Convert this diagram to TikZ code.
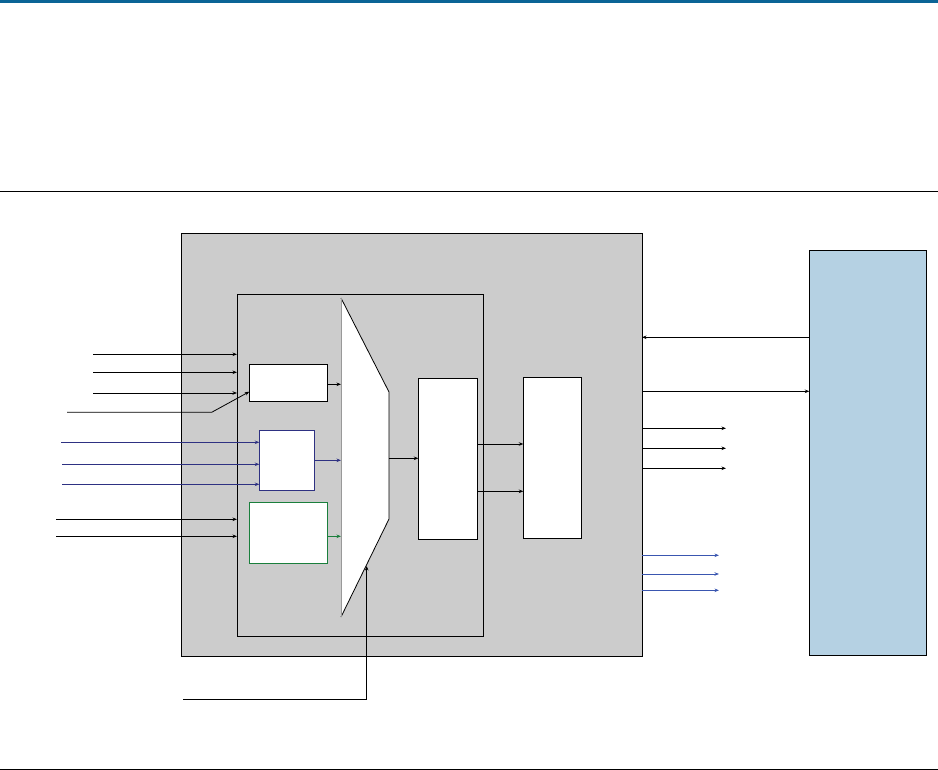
\documentclass[tikz,border=0pt]{standalone}
\usepackage{tikz}
\usetikzlibrary{arrows.meta}

\definecolor{rulecol}{HTML}{0B6496}
\definecolor{shellgray}{HTML}{CCCCCC}
\definecolor{hostblue}{HTML}{B5D1E3}
\definecolor{navyline}{HTML}{2E3182}
\definecolor{greenline}{HTML}{1A7F3C}
\definecolor{outblue}{HTML}{3A56B0}

\begin{document}
\begin{tikzpicture}[
  x=1pt, y=-1pt,
  shell/.style={draw, rectangle, line width=0.8pt, fill=shellgray, inner sep=0pt, outer sep=0pt},
  frame/.style={draw, rectangle, line width=0.8pt, inner sep=0pt, outer sep=0pt},
  blk/.style={draw, rectangle, line width=0.8pt, fill=white, inner sep=0pt, outer sep=0pt},
  host/.style={draw, rectangle, line width=0.8pt, fill=hostblue, inner sep=0pt, outer sep=0pt},
  arrow/.style={-{Stealth[length=4.5pt,width=3.5pt]}, line width=0.8pt},
  wire/.style={line width=0.8pt}
]
\useasboundingbox (0,0) rectangle (938,770);

% ==================== page rules ====================
\fill[rulecol] (0,0) rectangle (938,3);
\draw[line width=1pt] (0,192) -- (938,192);
\draw[line width=1pt] (0,769) -- (938,769);

% ==================== blocks ====================
\node[shell, minimum width=461, minimum height=423] (core) at (411.5, 444.5) {};
\node[frame, minimum width=246, minimum height=342] (inner) at (360, 465) {};

\node[blk, minimum width=78.4, minimum height=37] (blkA) at (288.5, 382.8) {};
\node[blk, draw=navyline, minimum width=55, minimum height=60] (blkB) at (286.8, 460.3) {};
\node[blk, draw=greenline, minimum width=78.4, minimum height=61] (blkC) at (288.5, 532.8) {};

\node[blk, minimum width=59, minimum height=161] (blkD) at (447.8, 458.8) {};
\node[blk, minimum width=58.4, minimum height=161] (blkE) at (552.5, 457.8) {};

\node[host, minimum width=117.4, minimum height=405] (hostbox) at (868, 452.8) {};

% mux
\coordinate (muxTL) at (341, 298);
\coordinate (muxTR) at (389, 392);
\coordinate (muxBR) at (389, 519);
\coordinate (muxBL) at (341, 617);
\fill[white] (muxTL) -- (muxTR) -- (muxBR) -- (muxBL) -- cycle;
\draw[wire] (muxBL) -- (muxBR) -- (muxTR) -- (muxTL);
\draw[wire, gray!80] (muxTL) -- (muxBL);

% ==================== inputs ====================
\coordinate (in1) at (93, 354.3);
\coordinate (in2) at (93, 372.3);
\coordinate (in3) at (93, 393);
\coordinate (in4) at (67, 412.3);
\coordinate (bend4) at (211.7, 412.3);

\draw[arrow] (in1) -- (in1 -| inner.west);
\draw[arrow] (in2) -- (in2 -| inner.west);
\draw[arrow] (in3) -- (in3 -| inner.west);
\draw[arrow] (in4) -- (bend4) -- (blkA.south west |- 0,391.7);

\coordinate (inB1) at (61, 442.3);
\coordinate (inB2) at (62, 464.3);
\coordinate (inB3) at (62, 484.3);

\draw[arrow, navyline] (inB1) -- (inB1 -| blkB.west);
\draw[arrow, navyline] (inB2) -- (inB2 -| blkB.west);
\draw[arrow, navyline] (inB3) -- (inB3 -| blkB.west);

\coordinate (inC1) at (56, 519.3);
\coordinate (inC2) at (56, 536.3);

\draw[arrow] (inC1) -- (inC1 -| inner.west);
\draw[arrow] (inC2) -- (inC2 -| inner.west);

% ==================== internal paths ====================
\draw[arrow] (blkA.east |- 0,384.3) -- (muxTL |- 0,384.3);
\draw[arrow, navyline] (blkB.east) -- (muxTL |- blkB.east);
\draw[arrow, greenline] (blkC.east |- 0,536.3) -- (muxTL |- 0,536.3);

\draw[arrow] (muxTR |- 0,458.3) -- (blkD.west |- 0,458.3);
\draw[arrow] (blkD.east |- 0,444) -- (blkE.west |- 0,444);
\draw[arrow] (blkD.east |- 0,491.3) -- (blkE.west |- 0,491.3);

% select
\coordinate (sel) at (183, 699.3);
\coordinate (selIn) at (366.7, 566);
\draw[arrow] (sel) -- (selIn |- sel) -- (selIn);

% ==================== right side ====================
\draw[arrow] (hostbox.west |- 0,337.3) -- (core.east |- 0,337.3);
\draw[arrow] (core.east |- 0,391.3) -- (hostbox.west |- 0,391.3);

\coordinate (out1) at (726, 428.3);
\coordinate (out2) at (726, 448.3);
\coordinate (out3) at (726, 468.3);

\draw[arrow] (core.east |- out1) -- (out1);
\draw[arrow] (core.east |- out2) -- (out2);
\draw[arrow] (core.east |- out3) -- (out3);

\coordinate (outB1) at (719, 555.3);
\coordinate (outB2) at (719, 574);
\coordinate (outB3) at (719, 590.3);

\draw[arrow, outblue] (core.east |- outB1) -- (outB1);
\draw[arrow, outblue] (core.east |- outB2) -- (outB2);
\draw[arrow, outblue] (core.east |- outB3) -- (outB3);

\end{tikzpicture}
\end{document}
